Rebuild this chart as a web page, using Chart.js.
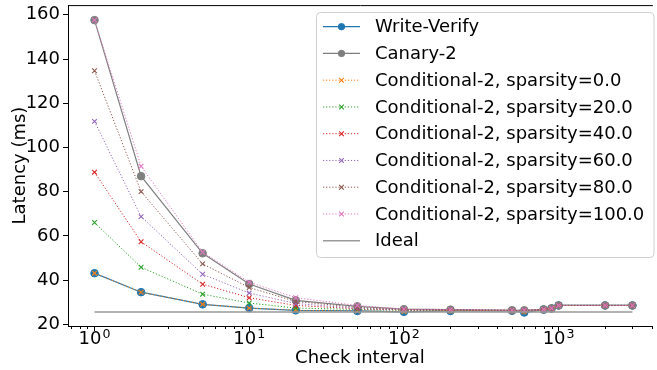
<!DOCTYPE html>
<html>
<head>
<meta charset="utf-8">
<script src="https://cdn.jsdelivr.net/npm/chart.js@4/dist/chart.umd.min.js"></script>
<style>
  html, body { margin: 0; padding: 0; background: #fff; }
  #chart { display: block; }
</style>
</head>
<body>
<canvas id="chart" width="657" height="370"></canvas>
<script>
// check interval (x, log scale)
const checkIntervals = [1, 2, 5, 10, 20, 50, 100, 200, 500, 600, 800, 900, 1000, 2000, 3000];

// latency (ms)
const writeVerify = [43.1, 34.5, 29.0, 27.3, 26.3, 26.0, 25.6, 26.0, 26.1, 25.3, 26.6, 27.1, 28.5, 28.5, 28.5];
const canary2     = [157.6, 87.0, 52.1, 38.2, 30.8, 28.1, 26.8, 26.6, 26.3, 26.3, 26.7, 27.2, 28.5, 28.5, 28.5];
const cond0       = [43.1, 34.5, 29.0, 27.3, 26.3, 26.0, 25.7, 26.1, 26.2, 25.6, 26.6, 27.1, 28.5, 28.5, 28.5];
const cond20      = [66.0, 45.8, 33.6, 29.6, 27.3, 26.7, 26.2, 26.3, 26.3, 26.0, 26.7, 27.2, 28.5, 28.5, 28.5];
const cond40      = [88.8, 57.3, 38.1, 32.0, 28.5, 27.0, 26.4, 26.4, 26.3, 26.1, 26.7, 27.2, 28.5, 28.5, 28.5];
const cond60      = [111.8, 68.7, 42.6, 34.1, 29.4, 27.2, 26.5, 26.5, 26.3, 26.2, 26.7, 27.2, 28.5, 28.5, 28.5];
const cond80      = [134.7, 80.0, 47.3, 36.6, 30.3, 27.6, 26.6, 26.5, 26.3, 26.3, 26.7, 27.2, 28.5, 28.5, 28.5];
const cond100     = [157.6, 91.5, 52.6, 39.0, 32.0, 28.5, 26.8, 26.6, 26.3, 26.3, 26.7, 27.2, 28.5, 28.5, 28.5];
const ideal       = [25.5, 25.5, 25.5, 25.5, 25.5, 25.5, 25.5, 25.5, 25.5, 25.5, 25.5, 25.5, 25.5, 25.5, 25.5];

const yTicks = [20, 40, 60, 80, 100, 120, 140, 160];
const xMajorTicks = [1, 10, 100, 1000];

const FONT = "'DejaVu Sans', sans-serif";

function pts(arr) {
  return checkIntervals.map((x, i) => ({ x: x, y: arr[i] }));
}

function condSet(label, data, color) {
  return {
    label: label,
    data: pts(data),
    borderColor: color,
    backgroundColor: color,
    borderWidth: 1,
    borderDash: [1.2, 1.9],
    pointStyle: "crossRot",
    pointRadius: 3.3,
    pointBorderWidth: 1.1,
    pointBorderColor: color,
  };
}

const datasets = [
  {
    label: "Write-Verify",
    data: pts(writeVerify),
    borderColor: "#1f77b4",
    backgroundColor: "#1f77b4",
    borderWidth: 1.2,
    pointStyle: "circle",
    pointRadius: 3.8,
    pointBorderWidth: 1,
  },
  {
    label: "Canary-2",
    data: pts(canary2),
    borderColor: "#7f7f7f",
    backgroundColor: "#7f7f7f",
    borderWidth: 1.2,
    pointStyle: "circle",
    pointRadius: 3.8,
    pointBorderWidth: 1,
  },
  condSet("Conditional-2, sparsity=0.0", cond0, "#ff7f0e"),
  condSet("Conditional-2, sparsity=20.0", cond20, "#2ca02c"),
  condSet("Conditional-2, sparsity=40.0", cond40, "#d62728"),
  condSet("Conditional-2, sparsity=60.0", cond60, "#9467bd"),
  condSet("Conditional-2, sparsity=80.0", cond80, "#8c564b"),
  condSet("Conditional-2, sparsity=100.0", cond100, "#e377c2"),
  {
    label: "Ideal",
    data: pts(ideal),
    borderColor: "#999999",
    backgroundColor: "#999999",
    borderWidth: 1.5,
    pointRadius: 0,
  },
];
// later datasets on top, like matplotlib
datasets.forEach((d, i) => { d.order = datasets.length - i; });

// frame top line, minor log ticks and 10^n labels
const frame = {
  id: "frame",
  afterDraw(chart) {
    const { ctx, chartArea } = chart;
    const xs = chart.scales.x;
    ctx.save();
    ctx.strokeStyle = "#000";
    ctx.lineWidth = 1;
    ctx.beginPath();
    ctx.moveTo(chartArea.left, chartArea.top + 0.5);
    ctx.lineTo(chartArea.right + 1, chartArea.top + 0.5);
    ctx.stroke();
    ctx.beginPath();
    for (let dec = 0.1; dec <= 1000; dec *= 10) {
      for (let m = 2; m <= 9; m++) {
        const v = dec * m;
        if (v < xs.min || v > xs.max) continue;
        const px = Math.round(xs.getPixelForValue(v)) + 0.5;
        ctx.moveTo(px, chartArea.bottom);
        ctx.lineTo(px, chartArea.bottom + 3);
      }
    }
    ctx.stroke();

    ctx.fillStyle = "#000";
    ctx.textAlign = "left";
    ctx.textBaseline = "alphabetic";
    xMajorTicks.forEach(v => {
      const px = xs.getPixelForValue(v);
      const exp = String(Math.round(Math.log10(v)));
      ctx.font = "18px " + FONT;
      const wb = ctx.measureText("10").width;
      ctx.font = "12.6px " + FONT;
      const we = ctx.measureText(exp).width;
      const x0 = px - (wb + we + 1) / 2;
      ctx.font = "18px " + FONT;
      ctx.fillText("10", x0, chartArea.bottom + 17.5);
      ctx.font = "12.6px " + FONT;
      ctx.fillText(exp, x0 + wb + 1, chartArea.bottom + 11.5);
    });
    ctx.restore();
  },
};

// matplotlib-style legend box in the upper right
const boxLegend = {
  id: "boxLegend",
  afterDraw(chart) {
    const ctx = chart.ctx;
    const left = 316.5, top = 12.5, w = 337.5, h = 245, r = 4;
    ctx.save();
    ctx.beginPath();
    ctx.moveTo(left + r, top);
    ctx.arcTo(left + w, top, left + w, top + h, r);
    ctx.arcTo(left + w, top + h, left, top + h, r);
    ctx.arcTo(left, top + h, left, top, r);
    ctx.arcTo(left, top, left + w, top, r);
    ctx.closePath();
    ctx.fillStyle = "rgba(255,255,255,0.8)";
    ctx.fill();
    ctx.strokeStyle = "#d0d0d0";
    ctx.lineWidth = 1;
    ctx.stroke();

    ctx.font = "18px " + FONT;
    ctx.textBaseline = "middle";
    ctx.textAlign = "left";
    chart.data.datasets.forEach((ds, i) => {
      const y = 26.7 + i * 26.75;
      ctx.save();
      ctx.strokeStyle = ds.borderColor;
      ctx.lineWidth = ds.borderWidth;
      ctx.setLineDash(ds.borderDash || []);
      ctx.beginPath();
      ctx.moveTo(323, y);
      ctx.lineTo(360, y);
      ctx.stroke();
      ctx.setLineDash([]);
      if (ds.pointRadius > 0) {
        ctx.fillStyle = ds.backgroundColor;
        ctx.strokeStyle = ds.pointBorderColor || ds.borderColor;
        ctx.lineWidth = ds.pointBorderWidth;
        Chart.helpers.drawPoint(ctx, {
          pointStyle: ds.pointStyle,
          radius: ds.pointStyle === "circle" ? 3.2 : ds.pointRadius,
          borderWidth: ds.pointBorderWidth,
          rotation: 0,
        }, 341.5, y);
      }
      ctx.restore();
      ctx.fillStyle = "#000";
      ctx.fillText(ds.label, 375, y + 1);
    });
    ctx.restore();
  },
};

new Chart(document.getElementById("chart"), {
  type: "line",
  data: { datasets: datasets },
  options: {
    responsive: false,
    animation: false,
    devicePixelRatio: 1,
    layout: { padding: { top: 3, right: 1, left: 0, bottom: 0 } },
    plugins: {
      legend: { display: false },
      tooltip: { enabled: false },
    },
    elements: { line: { tension: 0 } },
    scales: {
      x: {
        type: "logarithmic",
        min: 0.674,
        max: 4010,
        afterBuildTicks: (scale) => {
          scale.ticks = xMajorTicks.map(v => ({ value: v, major: true }));
        },
        afterFit: (scale) => {
          scale.height = 44;
          scale.paddingLeft = 0;
          scale.paddingRight = 0;
        },
        ticks: { display: false },
        grid: {
          drawOnChartArea: false,
          drawTicks: true,
          tickLength: 5,
          tickColor: "#000",
          tickWidth: 1,
        },
        border: { color: "#000", width: 1 },
        title: {
          display: true,
          text: "Check interval",
          color: "#000",
          font: { family: FONT, size: 18 },
          padding: { top: 0, bottom: 1 },
        },
      },
      y: {
        min: 19.2,
        max: 164.4,
        afterBuildTicks: (scale) => {
          scale.ticks = yTicks.map(v => ({ value: v }));
        },
        afterFit: (scale) => {
          scale.width = 68;
          scale.paddingTop = 0;
          scale.paddingBottom = 0;
        },
        ticks: {
          padding: 3,
          color: "#000",
          font: { family: FONT, size: 18 },
        },
        grid: {
          drawOnChartArea: false,
          drawTicks: true,
          tickLength: 5,
          tickColor: "#000",
          tickWidth: 1,
        },
        border: { color: "#000", width: 1 },
        title: {
          display: true,
          text: "Latency (ms)",
          color: "#000",
          font: { family: FONT, size: 18 },
          padding: { top: 10, bottom: 0 },
        },
      },
    },
  },
  plugins: [frame, boxLegend],
});
</script>
</body>
</html>
